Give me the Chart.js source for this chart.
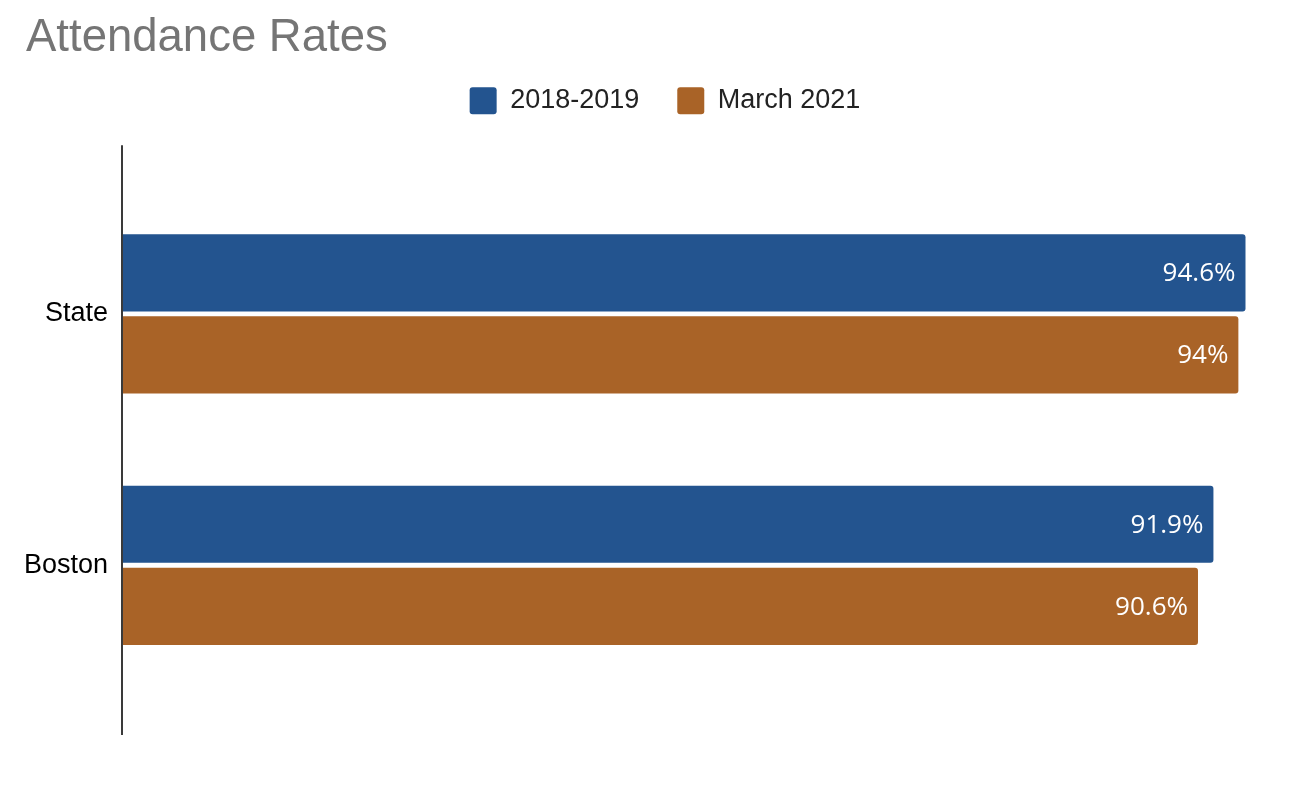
<!DOCTYPE html>
<html>
<head>
<meta charset="utf-8">
<script src="https://cdn.jsdelivr.net/npm/chart.js@4.4.1/dist/chart.umd.min.js"></script>
<style>
  html, body { margin: 0; padding: 0; background: #ffffff; }
  #wrap { width: 1292px; height: 786px; }
</style>
</head>
<body>
<div id="wrap"><canvas id="c" width="1292" height="786"></canvas></div>
<script>
const categories = ['State', 'Boston'];
const seriesNames = ['2018-2019', 'March 2021'];
const values2018 = [94.6, 91.9];
const valuesMarch2021 = [94, 90.6];
const seriesColors = ['#23548F', '#A96327'];

const axisLinePlugin = {
  id: 'axisLine',
  afterDatasetsDraw(chart) {
    const ctx = chart.ctx;
    const x = chart.scales.x.getPixelForValue(0);
    const a = chart.chartArea;
    ctx.save();
    ctx.strokeStyle = '#3a3a3a';
    ctx.lineWidth = 2;
    ctx.beginPath();
    ctx.moveTo(x, a.top - 43);
    ctx.lineTo(x, a.bottom + 44);
    ctx.stroke();
    ctx.restore();
  }
};

const valueLabelPlugin = {
  id: 'valueLabels',
  afterDatasetsDraw(chart) {
    const ctx = chart.ctx;
    ctx.save();
    ctx.font = '26px "Open Sans"';
    ctx.fillStyle = '#ffffff';
    ctx.textAlign = 'right';
    ctx.textBaseline = 'middle';
    chart.data.datasets.forEach((ds, di) => {
      const meta = chart.getDatasetMeta(di);
      meta.data.forEach((el, i) => {
        ctx.fillText(String(ds.data[i]) + '%', el.x - 10, el.y + 1);
      });
    });
    ctx.restore();
  }
};

const legendTweakPlugin = {
  id: 'legendTweak',
  beforeLayout(chart) {
    const lg = chart.legend;
    if (lg && !lg._tweaked) {
      const origFit = lg.fit;
      lg.fit = function () {
        origFit.call(this);
        this.height += 64;
      };
      lg._tweaked = true;
    }
  },
  afterLayout(chart) {
    const lg = chart.legend;
    if (lg) {
      lg.left += 15;
      lg.right += 15;
    }
  }
};

new Chart(document.getElementById('c'), {
  type: 'bar',
  data: {
    labels: categories,
    datasets: [
      {
        label: seriesNames[0],
        data: values2018,
        backgroundColor: seriesColors[0],
        borderWidth: 0,
        borderRadius: 3,
        borderSkipped: 'start',
        barPercentage: 0.94,
        categoryPercentage: 0.653
      },
      {
        label: seriesNames[1],
        data: valuesMarch2021,
        backgroundColor: seriesColors[1],
        borderWidth: 0,
        borderRadius: 3,
        borderSkipped: 'start',
        barPercentage: 0.94,
        categoryPercentage: 0.653
      }
    ]
  },
  options: {
    indexAxis: 'y',
    responsive: false,
    animation: false,
    layout: { padding: { left: 26, right: 18, top: 0, bottom: 95 } },
    plugins: {
      title: {
        display: true,
        text: 'Attendance Rates',
        align: 'start',
        color: '#757575',
        font: { family: '"Liberation Sans", Arial, sans-serif', size: 45.5, weight: 'normal', lineHeight: 0.4 },
        padding: { top: 29, bottom: 2 }
      },
      legend: {
        display: true,
        position: 'top',
        align: 'center',
        labels: {
          boxWidth: 27,
          boxHeight: 27,
          useBorderRadius: true,
          borderRadius: 3,
          padding: 38,
          color: '#222222',
          font: { family: '"Liberation Sans", Arial, sans-serif', size: 27 }
        }
      },
      tooltip: { enabled: false }
    },
    scales: {
      x: {
        display: false,
        min: 0,
        max: 97
      },
      y: {
        grid: { display: false, drawTicks: false },
        border: { display: false },
        afterFit(scale) { scale.width = 96; },
        ticks: {
          padding: 14,
          color: '#000000',
          font: { family: '"Liberation Sans", Arial, sans-serif', size: 27 }
        }
      }
    }
  },
  plugins: [axisLinePlugin, valueLabelPlugin, legendTweakPlugin]
});
</script>
</body>
</html>
